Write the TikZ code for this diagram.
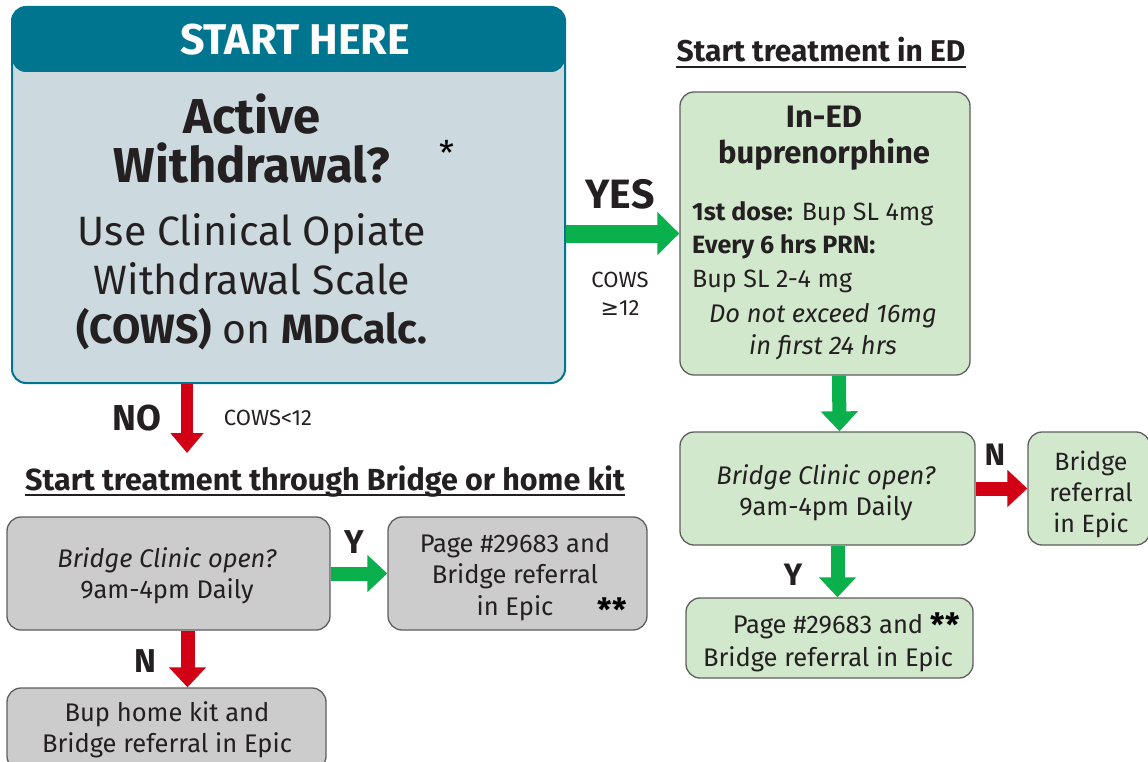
\documentclass[tikz,border=0pt]{standalone}
\usepackage{fontspec}
\setmainfont{Fira Sans}
\newfontfamily\symbolFont{DejaVu Sans}
\usepackage{tikz}
\usetikzlibrary{arrows.meta}
\definecolor{headColor}{rgb}{0,0.46,0.56}
\definecolor{startFill}{rgb}{0.80,0.85,0.87}
\definecolor{edFill}{rgb}{0.82,0.91,0.80}
\definecolor{homeFill}{rgb}{0.80,0.80,0.80}
\definecolor{boxLine}{rgb}{0.37,0.37,0.37}
\definecolor{yesColor}{rgb}{0.04,0.69,0.30}
\definecolor{noColor}{rgb}{0.82,0,0.08}
\definecolor{inkColor}{rgb}{0.14,0.12,0.13}
\newcommand{\sz}[2]{\fontsize{#1}{#2}\selectfont}

\begin{document}
\begin{tikzpicture}[x=1pt,y=-1pt]

          \tikzstyle{boxNode} = [draw=boxLine, line width=1.3pt, rounded corners=14pt, inner sep=0pt];
          \tikzstyle{edBox} = [boxNode, fill=edFill];
          \tikzstyle{homeBox} = [boxNode, fill=homeFill];
          \tikzstyle{textNode} = [inkColor, inner sep=0pt, anchor=base, align=center];
          \tikzstyle{titleLine} = [inkColor, line width=1.6pt];

          \tikzstyle{yesEdge} = [yesColor, line width=14pt, -{Triangle[width=36pt,length=20pt]}];
          \tikzstyle{noEdge} = [noColor, line width=14pt, -{Triangle[width=36pt,length=20pt]}];
          \tikzstyle{yesEdgeBig} = [yesColor, line width=18pt, -{Triangle[width=42pt,length=22pt]}];
          \tikzstyle{noEdgeBig} = [noColor, line width=12pt, -{Triangle[width=32pt,length=20pt]}];

          \clip (0,0) rectangle (1148,762);

          % start box (base = last line)
          \node[boxNode, draw=headColor, line width=2pt, fill=startFill, minimum width=553pt, minimum height=376pt,
                path picture={\fill[headColor] (path picture bounding box.north west) rectangle ([yshift=-65pt]path picture bounding box.north east);}]
                (start) at (288.5,195) {};
          \node[textNode, text=white, font=\sz{43}{44}\bfseries] (startTitle) at (295,55) {START HERE};
          \node[textNode, font=\sz{49}{50}\bfseries] (startQuestion) at (252,183) {Active\\Withdrawal?};
          \node[textNode, text=black, font=\sz{34}{36}] (startStar) at (447,166) {*};
          \node[textNode, font=\sz{41}{49}] (startCows) at (252,343) {Use Clinical Opiate\\Withdrawal Scale\\\textbf{(COWS)} on \textbf{MDCalc.}};

          % yes branch
          \node[textNode, font=\sz{41}{44}\bfseries] (yesLabel) at (620,208) {YES};
          \node[textNode, font=\sz{22}{28}] (yesCows) at (620,315) {COWS\\{\symbolFont ≥}12};
          \node[textNode, font=\sz{30}{32}\bfseries] (edTitle) at (821,62) {Start treatment in ED};
          \draw[titleLine] ([yshift=-5pt]edTitle.base west) -- ([yshift=-5pt]edTitle.base east);

          \node[edBox, minimum width=290pt, minimum height=283pt] (edBox) at (825,233.5) {};
          \node[textNode, font=\sz{31}{36}\bfseries] (edHead) at (824,164) {In-ED\\buprenorphine};
          \node[textNode, anchor=base west, align=left, font=\sz{25}{33.5}] (edDose) at (692,287) {\textbf{1st dose:} Bup SL 4mg\\\textbf{Every 6 hrs PRN:}\\Bup SL 2-4 mg};
          \node[textNode, font=\sz{25.5}{32}\itshape] (edLimit) at (823,354) {Do not exceed 16mg\\in first 24 hrs};

          \node[edBox, minimum width=295pt, minimum height=113pt] (edOpen) at (827.5,488.5) {};
          \node[textNode, font=\sz{25.5}{31}] (edOpenText) at (826,515) {\textit{Bridge Clinic open?}\\9am-4pm Daily};
          \node[textNode, font=\sz{31}{36}\bfseries] (edNoLabel) at (995,465) {N};
          \node[edBox, minimum width=122pt, minimum height=113pt] (edRef) at (1089,488.5) {};
          \node[textNode, font=\sz{25}{31}] (edRefText) at (1091,532) {Bridge\\referral\\in Epic};
          \node[textNode, font=\sz{31}{36}\bfseries] (edYesLabel) at (793,585) {Y};
          \node[edBox, minimum width=287pt, minimum height=80pt] (edPage) at (829.5,638) {};
          \node[textNode, font=\sz{25.5}{33}] (edPageText) at (828,666) {Page \#29683 and\\Bridge referral in Epic};
          \node[textNode, text=black, font=\sz{32}{34}\bfseries] (edPageStar) at (945,636) {**};

          % no branch
          \node[textNode, font=\sz{36}{40}\bfseries] (noLabel) at (137,430) {NO};
          \node[textNode, font=\sz{22}{24}] (noCows) at (268,425) {COWS<12};
          \node[textNode, font=\sz{30.5}{32}\bfseries] (homeTitle) at (325,490) {Start treatment through Bridge or home kit};
          \draw[titleLine] ([yshift=-5pt]homeTitle.base west) -- ([yshift=-5pt]homeTitle.base east);

          \node[homeBox, minimum width=323pt, minimum height=113pt] (homeOpen) at (168.5,573.5) {};
          \node[textNode, font=\sz{25.5}{31}] (homeOpenText) at (167,598) {\textit{Bridge Clinic open?}\\9am-4pm Daily};
          \node[textNode, font=\sz{33}{36}\bfseries] (homeYesLabel) at (354,553) {Y};
          \node[homeBox, minimum width=259pt, minimum height=113pt] (homePage) at (517.5,573.5) {};
          \node[textNode, font=\sz{25.5}{31.5}] (homePageText) at (515,615) {Page \#29683 and\\Bridge referral\\in Epic};
          \node[textNode, text=black, font=\sz{32}{34}\bfseries] (homePageStar) at (612,621) {**};
          \node[textNode, font=\sz{33}{36}\bfseries] (homeNoLabel) at (145,672) {N};
          \node[homeBox, minimum width=319pt, minimum height=82pt] (homeKit) at (166.5,729) {};
          \node[textNode, font=\sz{25.5}{31}] (homeKitText) at (167,752) {Bup home kit and\\Bridge referral in Epic};

          % arrows
          \coordinate (noEnd) at (187,453);
          \draw[noEdgeBig] (start.south -| noEnd) -- (noEnd);
          \draw[yesEdgeBig] (start.east |- edBox.west) -- (edBox.west);
          \draw[yesEdge] ([xshift=14pt]edBox.south) -- ([xshift=12pt]edOpen.north);
          \draw[noEdge] (edOpen.east) -- (edRef.west);
          \draw[yesEdge] ([xshift=10pt]edOpen.south) -- ([xshift=8pt]edPage.north);
          \draw[yesEdge] (homeOpen.east) -- (homePage.west);
          \draw[noEdge] ([xshift=19pt]homeOpen.south) -- ([xshift=21pt]homeKit.north);
        \end{tikzpicture}
\end{document}
